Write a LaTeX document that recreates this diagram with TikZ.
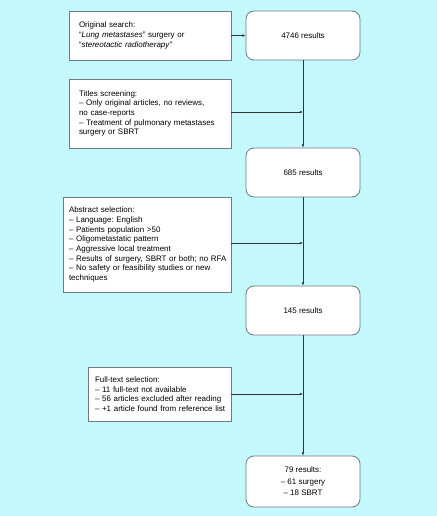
\documentclass[tikz,border=0pt]{standalone}
\usepackage{fontspec}
\setmainfont{Liberation Sans}
\usetikzlibrary{positioning}
\usetikzlibrary{arrows.meta}
\definecolor{bgc}{HTML}{C5F8FC}
\definecolor{bordc}{HTML}{6F7B80}
\definecolor{arrc}{HTML}{2E3438}
\frenchspacing

\begin{document}
\begin{tikzpicture}[x=1bp,y=-1bp,
  critbox/.style={draw=bordc, line width=0.8bp, fill=white, shape=rectangle, align=left, inner ysep=0pt, font=\fontsize{8}{9.7}\selectfont},
  resbox/.style={draw=bordc, line width=0.8bp, fill=white, shape=rectangle, rounded corners=8bp, align=center, minimum width=114bp, minimum height=49bp, font=\fontsize{8}{9.7}\selectfont},
  flowarr/.style={draw=arrc, line width=0.6bp, -{Latex[length=3.2bp,width=2.6bp]}}]
\fill[bgc] (0,0) rectangle (437,516);

% criteria boxes
\node[critbox, inner xsep=10bp, text width=142bp, minimum height=49bp]
(search) at (150,35.5) {Original search:\\
“\textit{Lung metastases}” surgery or\\
“\textit{stereotactic radiotherapy}”};
\node[critbox, inner xsep=10bp, text width=142bp, minimum height=69bp]
(titles) at (150,113.5) {Titles screening:\\
– Only original articles, no reviews,\\
no case-reports\\
– Treatment of pulmonary metastases\\
surgery or SBRT};
\node[critbox, inner xsep=6bp, text width=156bp, minimum height=95bp]
(abstract) at (147,244.5) {Abstract selection:\\
– Language: English\\
– Patients population >50\\
– Oligometastatic pattern\\
– Aggressive local treatment\\
\mbox{– Results of surgery, SBRT or both; no RFA}\\
– No safety or feasibility studies or new\\
techniques};
\node[critbox, inner xsep=7bp, text width=129bp, minimum height=54bp]
(fulltext) at (159.5,394) {Full-text selection:\\
– 11 full-text not available\\
– 56 articles excluded after reading\\
\mbox{– +1 article found from reference list}};

% result boxes
\node[resbox] (res0) at (303,35.5) {4746 results};
\node[resbox] (res1) at (303,172.5) {685 results};
\node[resbox] (res2) at (303,310.5) {145 results};
\node[resbox, minimum height=51bp] (res3) at (303,481.5) {79 results:\\[1.8bp]
– 61 surgery\\[1.8bp]
– 18 SBRT};

% connectors
\draw[flowarr] (search.east) -- (res0.west);
\draw[flowarr] (res0.south) -- (res1.north);
\draw[flowarr] (res1.south) -- (res2.north);
\draw[flowarr] (res2.south) -- (res3.north);
\draw[flowarr] ([yshift=1.5bp]titles.east) -- ([yshift=1.5bp]titles.east -| res0.south);
\draw[flowarr] ([yshift=1.5bp]abstract.east) -- ([yshift=1.5bp]abstract.east -| res1.south);
\draw[flowarr] (fulltext.east) -- (fulltext.east -| res2.south);

\end{tikzpicture}
\end{document}
